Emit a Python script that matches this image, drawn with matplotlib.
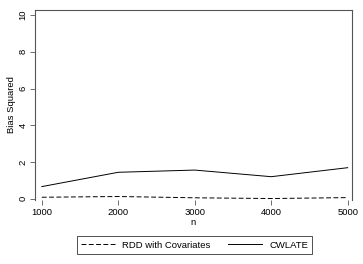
import matplotlib
matplotlib.use("Agg")
import matplotlib.pyplot as plt
from matplotlib.lines import Line2D

# --- Data ---
n_values = [1000, 2000, 3000, 4000, 5000]
rdd_cov = [0.08, 0.12, 0.05, 0.01, 0.06]
cwlate = [0.66, 1.44, 1.56, 1.20, 1.69]
y_ticks = [0, 2, 4, 6, 8, 10]

plt.rcParams['font.family'] = ['Liberation Sans', 'DejaVu Sans']
FS = 6.8
frame_col = '#555555'

fig = plt.figure(figsize=(3.63, 2.64), dpi=100)
ax = fig.add_axes([35 / 363, 1 - 200 / 264, 317 / 363, 190 / 264])

ax.plot(n_values, rdd_cov, color='black', lw=0.7, dashes=(5, 2.5),
        label='RDD with Covariates')
ax.plot(n_values, cwlate, color='black', lw=0.7, label='CWLATE')

ax.set_xlim(911, 5056)
ax.set_ylim(-0.07, 10.28)
ax.set_xticks(n_values)
ax.set_yticks(y_ticks)
ax.set_yticklabels([str(t) for t in y_ticks], rotation=90, va='center')

for s in ['left', 'top', 'right']:
    ax.spines[s].set_color(frame_col)
    ax.spines[s].set_linewidth(0.8)
ax.spines['bottom'].set_visible(False)

ax.tick_params(axis='both', direction='out', length=3.5, width=0.6,
               color=frame_col, labelsize=FS, pad=2)

ax.set_xlabel('n', fontsize=FS, labelpad=1)
ax.set_ylabel('Bias Squared', fontsize=FS, labelpad=2)

# legend box below the plot
handles = [Line2D([], [], color='black', lw=0.7, dashes=(5, 2.5)),
           Line2D([], [], color='black', lw=0.7)]
leg = fig.legend(handles, ['RDD with Covariates', 'CWLATE'],
                 loc='center', bbox_to_anchor=(194.5 / 363, 1 - 245 / 264),
                 ncol=2, fontsize=FS, frameon=True, fancybox=False,
                 handlelength=3.6, handletextpad=0.75, columnspacing=1.9,
                 borderpad=0.45, edgecolor='black')
leg.get_frame().set_linewidth(0.6)

fig.savefig('out.png', dpi=100)
